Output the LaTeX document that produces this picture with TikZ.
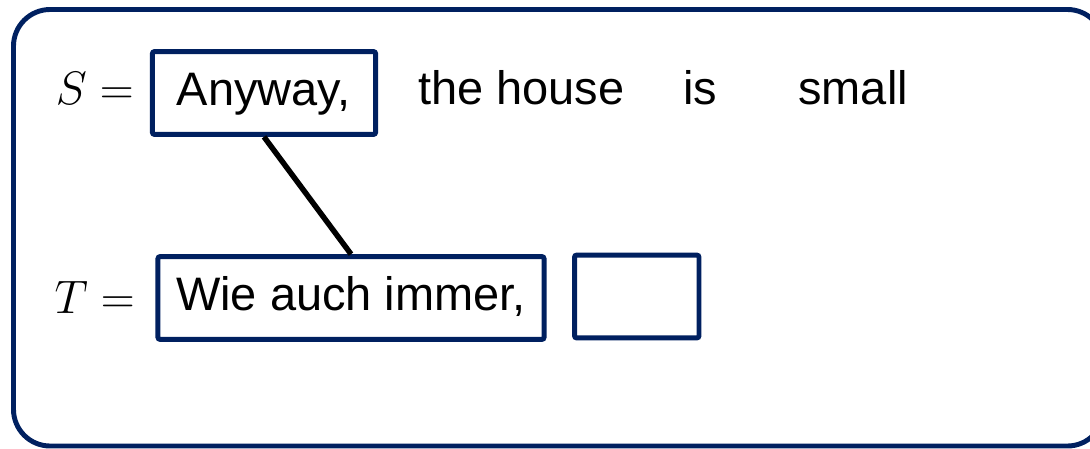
\documentclass[tikz,border=0pt]{standalone}
\usepackage{fix-cm}
\usepackage{fontspec}
\setmainfont{Liberation Sans}
\usepackage{amsmath}
\usepackage{xcolor}
\usepackage{tikz}
\usetikzlibrary{positioning}

\definecolor{navy}{RGB}{0,32,96}

\begin{document}
\begin{tikzpicture}[x=0.025cm, y=-0.025cm,
            % Word boxes
            wordbox/.style={draw=navy, line width=3.5pt, rounded corners=1.5pt,
                    minimum height=2.07cm, inner sep=0pt,
                    text height=0.716em, text depth=0.2em},
            % Plain words
            word/.style={anchor=base west, inner sep=0pt},
            % Sentence labels
            sentlabel/.style={anchor=base east, inner sep=0pt},
            % Alignment link
            link/.style={line width=3.9pt, color=black}
        ]
        \clip (0,0) rectangle (1090,448);
        \useasboundingbox (0,0) rectangle (1090,448);
        \fontsize{33.4}{40}\selectfont

        % Frame
        \draw[navy, line width=3.5pt, rounded corners=26pt] (13.5,9.5) rectangle (1104,446);

        % Source sentence
        \node[sentlabel] (slabel) at (134,104) {$S=$};
        \node[wordbox, minimum width=5.58cm] (anyway) at (264,93) {Anyway,};
        \node[word] (thehouse) at (418,104) {the house};
        \node[word] (is) at (683,104) {is};
        \node[word] (small) at (798,104) {small};

        % Target sentence
        \node[sentlabel] (tlabel) at (135,313) {$T=$};
        \node[wordbox, minimum width=9.65cm] (wieauch) at (351,298) {Wie auch immer,};
        \node[wordbox, minimum width=3.11cm] (empty) at (636.75,296.5) {};

        % Alignment
        \draw[link] (anyway.south) -- (wieauch.north);

    \end{tikzpicture}
\end{document}
